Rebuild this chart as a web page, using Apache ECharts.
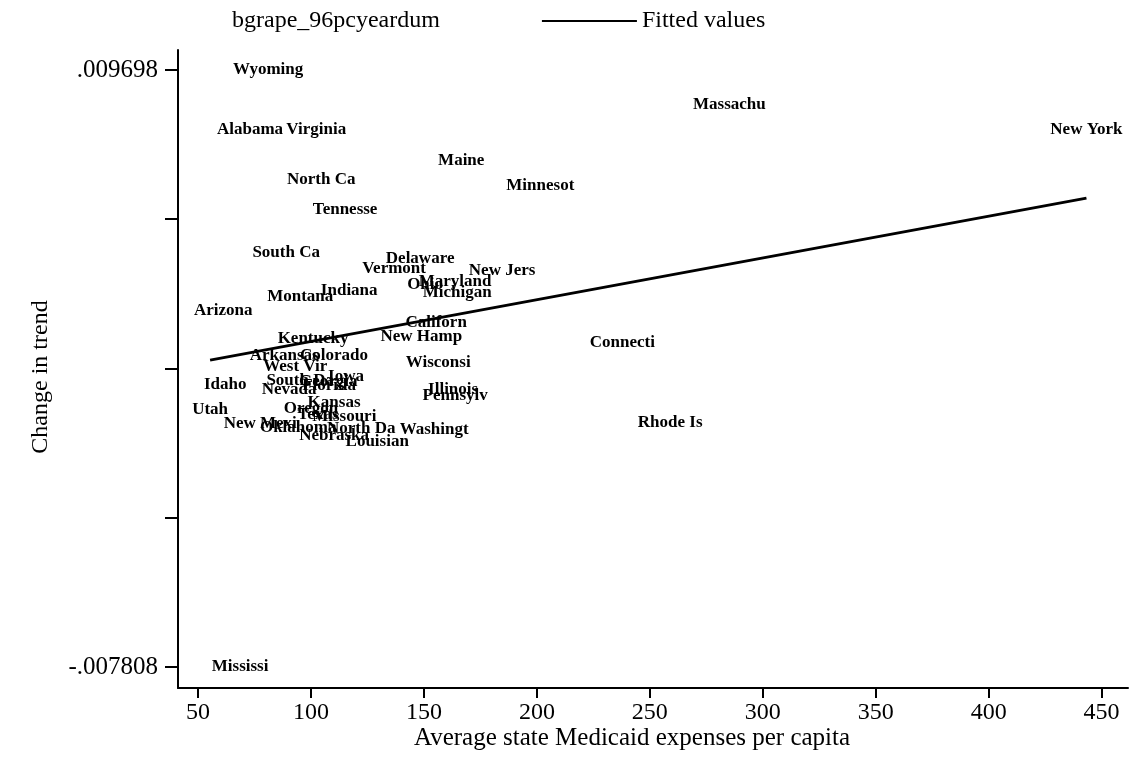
<!DOCTYPE html>
<html>
<head>
<meta charset="utf-8">
<script src="https://cdn.jsdelivr.net/npm/echarts@6/dist/echarts.min.js"></script>
<style>
html,body{margin:0;padding:0;background:#fff;}
#chart{width:1131px;height:760px;}
</style>
</head>
<body>
<div id="chart"></div>
<script>
// state labels (truncated to 8 chars as in the original)
var states = ['Wyoming','Alabama','Virginia','Massachu','New York','Maine','North Ca','Minnesot',
    'Tennesse','South Ca','Delaware','Vermont','New Jers','Ohio','Maryland','Michigan','Indiana',
    'Montana','Arizona','Californ','Kentucky','New Hamp','Connecti','Arkansas','Colorado','Wisconsi',
    'West Vir','Idaho','South Da','Georgia','Iowa','Nevada','Florida','Illinois','Pennsylv','Utah',
    'Kansas','Oregon','Texas','Missouri','New Mexi','Oklahoma','North Da','Washingt','Nebraska',
    'Louisian','Rhode Is','Mississi'];
// average state Medicaid expenses per capita
var medExp = [81.0,73.0,102.3,285.2,443.3,166.5,104.5,201.5,
    115.1,89.0,148.3,136.8,184.6,150.5,163.8,164.7,116.9,
    95.2,61.1,155.4,100.9,148.8,237.8,88.1,110.2,156.3,
    93.0,62.0,95.2,107.6,115.5,90.3,108.0,162.9,163.8,55.3,
    110.2,100.0,103.1,114.7,77.5,94.3,122.2,154.5,110.2,
    129.3,259.0,68.6];
// change in trend
var trendChg = [0.009698,0.007939,0.007939,0.008672,0.007939,0.007030,0.006472,0.006297,
    0.005593,0.004332,0.004156,0.003863,0.003804,0.003394,0.003482,0.003159,0.003218,
    0.003042,0.002631,0.002279,0.001810,0.001869,0.001693,0.001312,0.001312,0.001106,
    0.000989,0.000461,0.000579,0.000549,0.000696,0.000315,0.000432,0.000315,0.000139,-0.000272,
    -0.000067,-0.000243,-0.000418,-0.000477,-0.000682,-0.000800,-0.000829,-0.000858,-0.001034,
    -0.001210,-0.000653,-0.007808];
// fitted values (end points of the linear fit)
var fitX = [55.3, 443.3];
var fitY = [0.00119, 0.00594];

var xTicks = [50,100,150,200,250,300,350,400,450];
var yTicks = [-0.007808,-0.0034315,0.000945,0.0053215,0.009698];
var yLabels = [-0.007808,0.009698];

var pts = [];
for (var i = 0; i < states.length; i++) {
    pts.push({name: states[i], value: [medExp[i], trendChg[i]]});
}
var fit = [];
for (var j = 0; j < fitX.length; j++) {
    fit.push([fitX[j], fitY[j]]);
}

var serif = 'Liberation Serif';
var myChart = echarts.init(document.getElementById('chart'));
var option = {
    animation: false,
    backgroundColor: '#fff',
    legend: {
        top: 4,
        left: 127,
        itemWidth: 95,
        itemHeight: 2,
        itemGap: 102,
        textStyle: {fontFamily: serif, fontSize: 24, color: '#000'},
        data: [
            {name: 'bgrape_96pcyeardum', icon: 'none'},
            {name: 'Fitted values', icon: 'rect', itemStyle: {color: '#000'}}
        ]
    },
    grid: {left: 178, right: 3, top: 50, bottom: 72},
    xAxis: {
        type: 'value',
        min: 41.1,
        max: 461.7,
        name: 'Average state Medicaid expenses per capita',
        nameLocation: 'middle',
        nameGap: 38,
        nameMoveOverlap: false,
        nameTextStyle: {fontFamily: serif, fontSize: 25, color: '#000', padding: [0, 42, 0, 0]},
        splitLine: {show: false},
        axisLine: {onZero: false, lineStyle: {color: '#000', width: 2}},
        axisTick: {length: 10, lineStyle: {color: '#000', width: 2}, customValues: xTicks},
        axisLabel: {fontFamily: serif, fontSize: 24, color: '#000', margin: 13, customValues: xTicks}
    },
    yAxis: {
        type: 'value',
        min: -0.008424,
        max: 0.010284,
        name: 'Change in trend',
        nameLocation: 'middle',
        nameRotate: 90,
        nameGap: 125,
        nameMoveOverlap: false,
        nameTextStyle: {fontFamily: serif, fontSize: 24, color: '#000', padding: [0, 16, 0, 0]},
        splitLine: {show: false},
        axisLine: {onZero: false, lineStyle: {color: '#000', width: 2}},
        axisTick: {length: 13, lineStyle: {color: '#000', width: 2}, customValues: yTicks},
        axisLabel: {
            fontFamily: serif, fontSize: 25, color: '#000', margin: 20,
            customValues: yLabels,
            formatter: function (v) { return String(v).replace('0.', '.'); }
        }
    },
    series: [
        {
            name: 'bgrape_96pcyeardum',
            type: 'scatter',
            symbolSize: 0.1,
            itemStyle: {color: 'rgba(0,0,0,0)', opacity: 1},
            label: {
                show: true,
                position: 'inside',
                formatter: '{b}',
                fontFamily: serif,
                fontWeight: 'bold',
                fontSize: 17,
                color: '#000',
                textBorderWidth: 0
            },
            emphasis: {disabled: true},
            data: pts
        },
        {
            name: 'Fitted values',
            type: 'line',
            symbol: 'none',
            lineStyle: {color: '#000', width: 3},
            itemStyle: {color: '#000'},
            emphasis: {disabled: true},
            data: fit
        }
    ]
};
myChart.setOption(option);
</script>
</body>
</html>
